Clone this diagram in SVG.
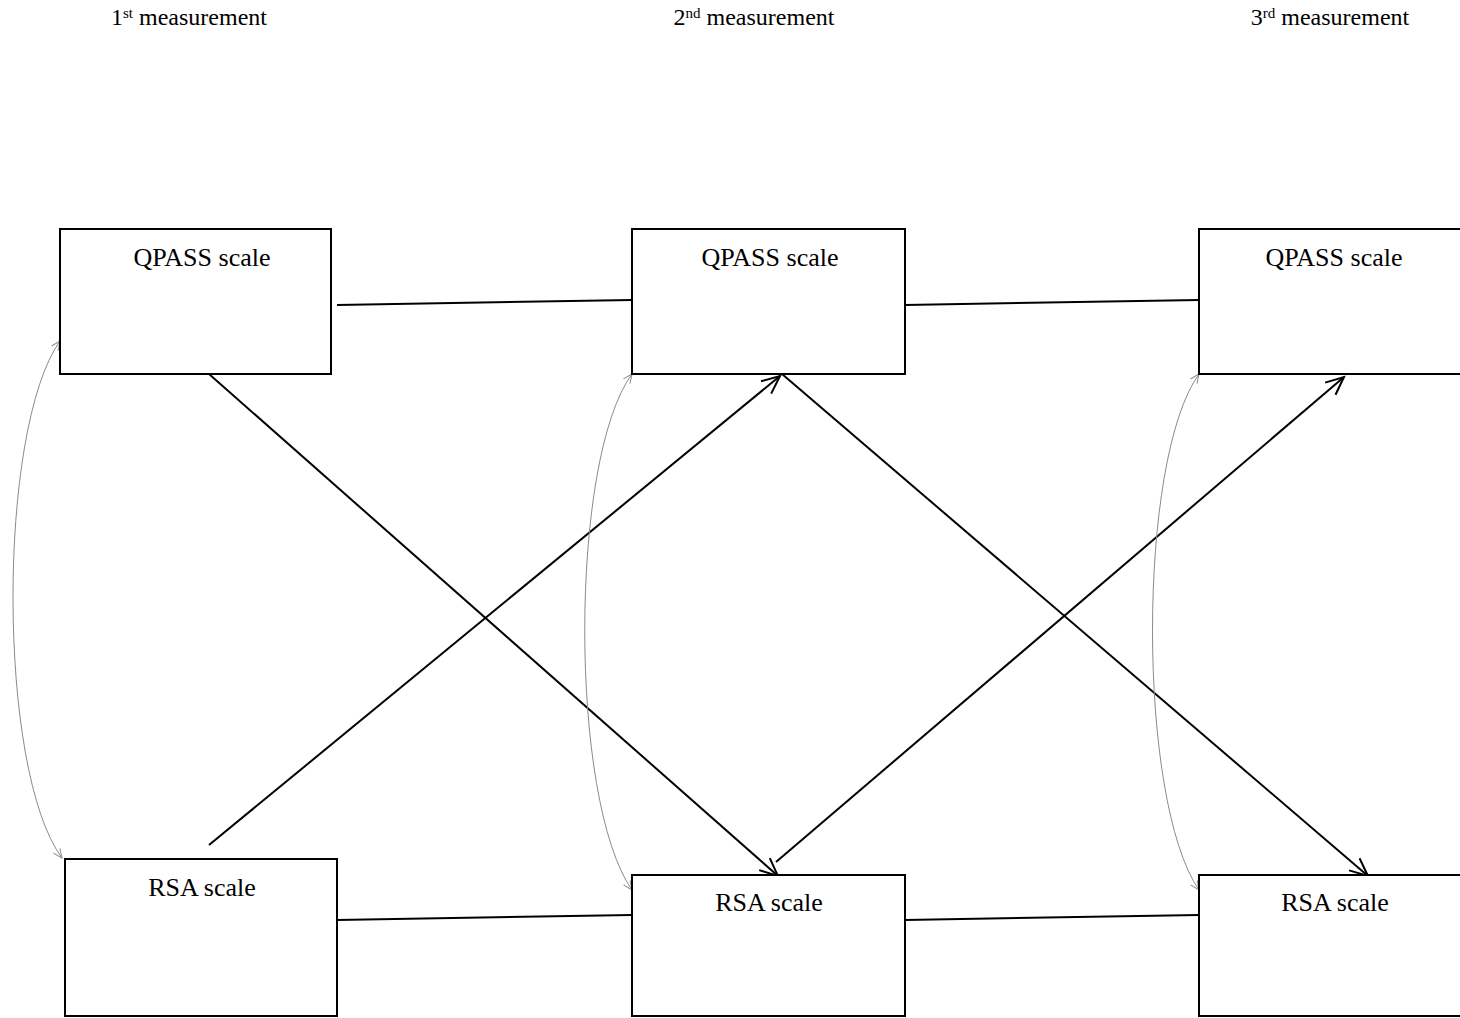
<svg xmlns="http://www.w3.org/2000/svg" width="1460" height="1018" viewBox="0 0 1460 1018">
<style>
.box{fill:#fff;stroke:#000;stroke-width:2}
.lbl{font-family:"Liberation Serif",serif;font-size:26px;fill:#000;text-anchor:middle}
.hdr{font-family:"Liberation Serif",serif;font-size:24px;fill:#000;text-anchor:middle}
.ln{fill:none;stroke:#000;stroke-width:2}
.cv{fill:none;stroke:#8a8a8a;stroke-width:1}
</style>
<defs>
<marker id="arr" markerUnits="userSpaceOnUse" markerWidth="24" markerHeight="24" viewBox="-20 -10 24 20" refX="0" refY="0" orient="auto">
<path d="M-18,-8 L0,0 L-18,8" fill="none" stroke="#000" stroke-width="2"/>
</marker>
<marker id="garr" markerUnits="userSpaceOnUse" markerWidth="12" markerHeight="12" viewBox="-10 -6 12 12" refX="0" refY="0" orient="auto-start-reverse">
<path d="M-9,-4 L0,0 L-9,4" fill="none" stroke="#8a8a8a" stroke-width="1"/>
</marker>
</defs>
<g id="headers">
<text class="hdr" x="189" y="25">1<tspan font-size="15" dy="-7">st</tspan><tspan dy="7"> measurement</tspan></text>
<text class="hdr" x="754" y="25">2<tspan font-size="15" dy="-7">nd</tspan><tspan dy="7"> measurement</tspan></text>
<text class="hdr" x="1330" y="25">3<tspan font-size="15" dy="-7">rd</tspan><tspan dy="7"> measurement</tspan></text>
</g>
<g id="connectors">
<path class="ln" d="M337,305 L632,300"/>
<path class="ln" d="M905,305 L1199,300"/>
<path class="ln" d="M337,920 L632,915"/>
<path class="ln" d="M905,920 L1199,915"/>
<path class="ln" d="M209,374 L778,876" marker-end="url(#arr)"/>
<path class="ln" d="M209,845 L780,376" marker-end="url(#arr)"/>
<path class="ln" d="M782,374 L1368,876" marker-end="url(#arr)"/>
<path class="ln" d="M776,862 L1344,377" marker-end="url(#arr)"/>
<path class="cv" d="M60,341 C-3,430 -3,770 62,858" marker-start="url(#garr)" marker-end="url(#garr)"/>
<path class="cv" d="M632,374 C569,460 569,800 632,890" marker-start="url(#garr)" marker-end="url(#garr)"/>
<path class="cv" d="M1199,374 C1137,460 1137,800 1199,890" marker-start="url(#garr)" marker-end="url(#garr)"/>
</g>
<g id="qpass1"><rect class="box" x="60" y="229" width="271" height="145"/><text class="lbl" x="202" y="266">QPASS scale</text></g>
<g id="qpass2"><rect class="box" x="632" y="229" width="273" height="145"/><text class="lbl" x="770" y="266">QPASS scale</text></g>
<g id="qpass3"><rect class="box" x="1199" y="229" width="280" height="145"/><text class="lbl" x="1334" y="266">QPASS scale</text></g>
<g id="rsa1"><rect class="box" x="65" y="859" width="272" height="157"/><text class="lbl" x="202" y="896">RSA scale</text></g>
<g id="rsa2"><rect class="box" x="632" y="875" width="273" height="141"/><text class="lbl" x="769" y="911">RSA scale</text></g>
<g id="rsa3"><rect class="box" x="1199" y="875" width="280" height="141"/><text class="lbl" x="1335" y="911">RSA scale</text></g>
</svg>
